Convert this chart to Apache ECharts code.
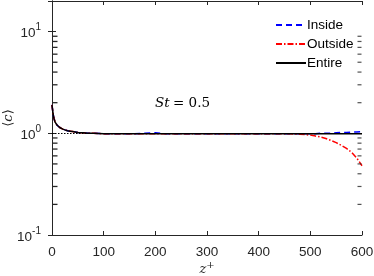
<!DOCTYPE html>
<html><head><meta charset="utf-8">
<script src="https://cdn.jsdelivr.net/npm/echarts@6/dist/echarts.min.js"></script>
<style>html,body{margin:0;padding:0;background:#fff}#c{width:374px;height:276px}</style>
</head><body><div id="c"></div>
<script>
const zPlus = [0,1,2,3,4,5,6,8,10,12,15,18,21,25,30,35,40,50,60,70,80,100,120,140,160,180,200,220,240,260,280,300,320,340,360,380,400,420,440,460,480,490,500,510,520,530,540,550,560,570,580,590,600];
const entire = [1.90,1.72,1.58,1.47,1.39,1.33,1.29,1.24,1.20,1.17,1.14,1.12,1.10,1.08,1.06,1.05,1.04,1.02,1.01,1.00,1.00,0.99,0.99,0.99,0.99,0.99,0.99,0.99,0.99,0.99,0.99,0.99,0.99,0.99,0.99,0.99,0.99,0.99,0.99,0.99,0.99,0.99,0.99,0.99,0.99,0.99,0.99,0.99,0.99,0.99,0.99,0.99,0.99];
const inside = [1.90,1.72,1.58,1.47,1.39,1.33,1.29,1.24,1.20,1.17,1.14,1.12,1.10,1.08,1.06,1.05,1.04,1.02,1.01,1.00,1.00,0.99,0.99,0.99,0.99,1.00,1.01,0.99,0.99,0.99,0.99,0.99,0.99,0.99,0.99,0.99,0.99,0.99,0.99,0.99,0.99,0.99,0.99,0.99,1.00,1.00,1.00,1.01,1.02,1.02,1.03,1.03,1.04];
const outside = [1.90,1.72,1.58,1.47,1.39,1.33,1.29,1.24,1.20,1.17,1.14,1.12,1.10,1.08,1.06,1.05,1.04,1.02,1.01,1.00,1.00,0.99,0.99,0.99,0.99,0.99,0.99,0.99,0.99,0.99,0.99,0.99,0.99,0.99,0.99,0.99,0.99,0.99,0.99,0.99,0.98,0.97,0.96,0.94,0.92,0.89,0.85,0.81,0.76,0.71,0.65,0.57,0.48];
const xTicks = [0,100,200,300,400,500,600];
const yMinorTicks = [0.2,0.3,0.4,0.5,0.6,0.7,0.8,0.9,2,3,4,5,6,7,8,9];
const refLevel = 1;
const stText = 'St';
const stValue = '= 0.5';

const C = '#262626';
const F = '"Liberation Sans", Arial, sans-serif';
const SERIF = '"DejaVu Serif", serif';
const pair = a => zPlus.map((z, i) => [z, a[i]]);

const chart = echarts.init(document.getElementById('c'));
const baseX = {type:'value', min:0, max:600, interval:100,
  axisLine:{lineStyle:{color:C, width:1}}, splitLine:{show:false},
  axisTick:{inside:true, length:4, lineStyle:{color:C}}};
const baseY = {type:'log', logBase:10, min:0.1, max:20,
  axisLine:{lineStyle:{color:C, width:1}}, splitLine:{show:false},
  axisTick:{inside:true, length:4, lineStyle:{color:C}}, minorTick:{show:false}};

chart.setOption({
  animation:false,
  backgroundColor:'#fff',
  grid:{left:52, right:12, top:1, bottom:41, outerBoundsMode:'none', containLabel:false},
  legend:{orient:'vertical', left:270, top:13, itemWidth:30, itemHeight:1, itemGap:5,
    itemStyle:{opacity:0},
    data:['Inside','Outside','Entire'],
    textStyle:{fontFamily:F, fontSize:13.5, color:'#000', padding:[0,0,0,-4]}},
  xAxis:[
    Object.assign({}, baseX, {position:'bottom',
      axisLabel:{color:C, fontFamily:F, fontSize:13.5, margin:10,
        formatter: v => xTicks.includes(v) ? String(v) : ''}}),
    Object.assign({}, baseX, {position:'top', axisLabel:{show:false}})
  ],
  yAxis:[
    Object.assign({}, baseY, {position:'left',
      axisLabel:{margin:11, showMaxLabel:false, formatter: v => {
        const e = Math.round(Math.log10(v));
        if (Math.abs(v - Math.pow(10, e)) > 1e-9 * v) return '';
        return '{b|10}{s|' + String(e) + '}';
      }, rich:{b:{fontFamily:F, fontSize:13.5, color:C, verticalAlign:'bottom', lineHeight:18},
               s:{fontFamily:F, fontSize:10, color:C, verticalAlign:'top', lineHeight:18}}}}),
    Object.assign({}, baseY, {position:'right', axisLabel:{show:false}})
  ],
  graphic:[
    {type:'text', left:155, top:96, style:{
      text:'{i|' + stText + '} {r|' + stValue + '}',
      rich:{i:{fontFamily:SERIF, fontStyle:'italic', fontSize:13.5, fill:'#000'},
            r:{fontFamily:SERIF, fontSize:13.5, fill:'#000'}}}},
    {type:'text', x:207, y:268, style:{text:'{i|z}{s|+}', align:'center', verticalAlign:'middle',
      rich:{i:{fontFamily:SERIF, fontStyle:'italic', fontSize:13, fill:C, verticalAlign:'bottom', lineHeight:16},
            s:{fontFamily:SERIF, fontSize:10, fill:C, verticalAlign:'top', lineHeight:16}}}},
    {type:'text', x:9, y:118, rotation:Math.PI/2, style:{text:'⟨{i|c}⟩', align:'center', verticalAlign:'middle',
      fontFamily:SERIF, fontSize:13, fill:C,
      rich:{i:{fontFamily:SERIF, fontStyle:'italic', fontSize:13, fill:C}}}}
  ],
  series:[
    {name:'Inside', type:'line', data:pair(inside), symbol:'none', z:3,
      lineStyle:{color:'#0000ff', width:1.5, type:[6,4]}, itemStyle:{color:'#0000ff'}},
    {name:'Outside', type:'line', data:pair(outside), symbol:'none', z:4,
      lineStyle:{color:'#ff0000', width:1.5, type:[6,2,1.5,2]}, itemStyle:{color:'#ff0000'}},
    {name:'Entire', type:'line', data:pair(entire), symbol:'none', z:5,
      lineStyle:{color:'#000', width:1.5}, itemStyle:{color:'#000'},
      markLine:{silent:true, symbol:'none', label:{show:false},
        lineStyle:{color:'#000', type:[1.5,1.5], width:1.2}, data:[{yAxis:refLevel}]}},
    {type:'scatter', silent:true, z:50, clip:false, symbol:'rect', symbolSize:[5,1.3], symbolOffset:[3,0],
      itemStyle:{color:C, opacity:1}, data: yMinorTicks.map(v => [0, v])},
    {type:'scatter', silent:true, z:50, clip:false, symbol:'rect', symbolSize:[4,1.2], symbolOffset:[-2.5,0],
      itemStyle:{color:C}, data: yMinorTicks.map(v => [600, v])}
  ]
});
</script></body></html>
